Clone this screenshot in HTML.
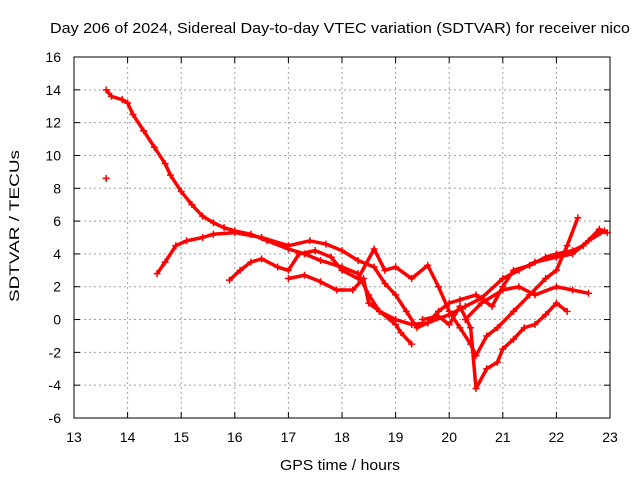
<!DOCTYPE html>
<html><head><meta charset="utf-8"><style>
body{margin:0;background:#fff}
svg{font-family:"Liberation Sans",sans-serif;font-size:14px}
</style></head><body>
<svg id="chart" width="640" height="480" xmlns="http://www.w3.org/2000/svg">
<rect width="640" height="480" fill="#fff"/>
<text x="50" y="33" textLength="580" lengthAdjust="spacingAndGlyphs" style="font-size:15px">Day 206 of 2024, Sidereal Day-to-day VTEC variation (SDTVAR) for receiver nico</text>
<text x="280" y="470" textLength="120" lengthAdjust="spacingAndGlyphs" style="font-size:15px">GPS time / hours</text>
<text transform="translate(19,302) rotate(-90)" textLength="152" lengthAdjust="spacingAndGlyphs" style="font-size:14px">SDTVAR / TECUs</text>
<g id="grid"></g><g id="series"></g>
<rect x="74" y="57" width="536" height="361" fill="none" stroke="#000"/>
</svg>
<script>
const xTicks=[13,14,15,16,17,18,19,20,21,22,23];
const yTicks=[-6,-4,-2,0,2,4,6,8,10,12,14,16];
const trackA=[[13.6,14],[13.7,13.6],[13.9,13.4],[14.0,13.2],[14.1,12.5],[14.3,11.5],[14.5,10.5],[14.7,9.5],[14.8,8.8],[15.0,7.8],[15.2,7.0],[15.4,6.3],[15.6,5.9],[15.8,5.6],[16.0,5.4],[16.3,5.2],[16.6,4.8],[17.0,4.3],[17.3,4.0],[17.6,3.6],[18.0,3.2],[18.3,2.8],[18.5,1.5],[18.7,0.5],[19.0,0],[19.3,-0.3],[19.6,-0.2],[20.0,0.3],[20.3,0.8],[20.6,1.3],[21.0,2.5],[21.3,3],[21.6,3.5],[22.0,3.8],[22.3,4.0],[22.6,4.8],[22.9,5.4]];
const trackB=[[14.55,2.8],[14.7,3.5],[14.9,4.5],[15.1,4.8],[15.4,5.0],[15.6,5.2],[16.0,5.3],[16.5,5.0],[17.0,4.5],[17.4,4.8],[17.7,4.6],[18.0,4.2],[18.3,3.6],[18.6,3.2],[18.8,2.2],[19.0,1.5],[19.2,0.5],[19.4,-0.5],[19.6,-0.2],[19.8,0.5],[20.0,1.0],[20.2,1.2],[20.5,1.5],[20.8,0.8],[21.0,2.0],[21.2,3.0],[21.5,3.3],[21.8,3.8],[22.0,4.0],[22.3,4.2],[22.5,4.5],[22.8,5.5],[22.95,5.3]];
const trackC=[[15.9,2.4],[16.1,3.0],[16.3,3.5],[16.5,3.7],[16.8,3.2],[17.0,3.0],[17.2,4.0],[17.5,4.2],[17.8,3.8],[18.0,3.0],[18.3,2.5],[18.6,4.3],[18.8,3.0],[19.0,3.2],[19.3,2.5],[19.6,3.3],[19.8,2.0],[20.0,0.5],[20.2,-0.5],[20.4,-1.5],[20.5,-2.2],[20.7,-1.0],[20.9,-0.5],[21.2,0.5],[21.5,1.5],[21.8,2.5],[22.0,3.0],[22.2,4.5],[22.4,6.2]];
const trackD=[[17.0,2.5],[17.3,2.7],[17.6,2.3],[17.9,1.8],[18.2,1.8],[18.4,2.5],[18.5,1.0],[18.7,0.5],[19.0,-0.3],[19.1,-0.8],[19.3,-1.5]];
const trackE=[[19.5,0],[19.8,0.2],[20.0,-0.3],[20.2,0.8],[20.4,-0.5],[20.5,-4.2],[20.7,-3.0],[20.9,-2.6],[21.0,-1.8],[21.2,-1.2],[21.4,-0.5],[21.6,-0.3],[21.8,0.3],[22.0,1.0],[22.2,0.5]];
const trackF=[[20.3,0],[20.6,1.0],[21.0,1.8],[21.3,2.0],[21.6,1.5],[22.0,2.0],[22.3,1.8],[22.6,1.6]];
const singles=[[13.6,8.6]];
const tracks=[trackA,trackB,trackC,trackD,trackE,trackF];
const X=v=>74+(v-13)*53.6, Y=v=>418-(v+6)*361/22;
const NS="http://www.w3.org/2000/svg";
const grid=document.getElementById('grid'),ser=document.getElementById('series');
function mk(t,a,p){const e=document.createElementNS(NS,t);for(const k in a)e.setAttribute(k,a[k]);p.appendChild(e);return e;}
xTicks.forEach(t=>{const x=X(t);
 if(t>13&&t<23){const l=mk('line',{x1:x,x2:x,y1:57,y2:418,stroke:'#a0a0a0','stroke-dasharray':'2,3'},grid);
 }
 mk('line',{x1:x,x2:x,y1:418,y2:412,stroke:'#000'},grid);mk('line',{x1:x,x2:x,y1:57,y2:63,stroke:'#000'},grid);
 const tx=mk('text',{x:x,y:442,'text-anchor':'middle'},grid);tx.textContent=t;
 });
yTicks.forEach(t=>{const y=Y(t);
 if(t>-6&&t<16){const l=mk('line',{x1:74,x2:610,y1:y,y2:y,stroke:'#a0a0a0','stroke-dasharray':'2,3'},grid);
 }
 mk('line',{x1:74,x2:80,y1:y,y2:y,stroke:'#000'},grid);mk('line',{x1:610,x2:604,y1:y,y2:y,stroke:'#000'},grid);
 const tx=mk('text',{x:61,y:y+5,'text-anchor':'end'},grid);tx.textContent=t;
 });
function plus(p){const x=X(p[0]),y=Y(p[1]);
 const g=mk('path',{d:`M${x-3.5},${y}H${x+3.5}M${x},${y-3.5}V${y+3.5}`,stroke:'#f00','stroke-width':1.5},ser);
 }
tracks.forEach(tr=>{
 const pl=mk('polyline',{points:tr.map(p=>X(p[0])+','+Y(p[1])).join(' '),fill:'none',stroke:'#f00','stroke-width':3.5,'stroke-linejoin':'round'},ser);
 
 tr.forEach(plus);});
singles.forEach(plus);
</script>
</body></html>
